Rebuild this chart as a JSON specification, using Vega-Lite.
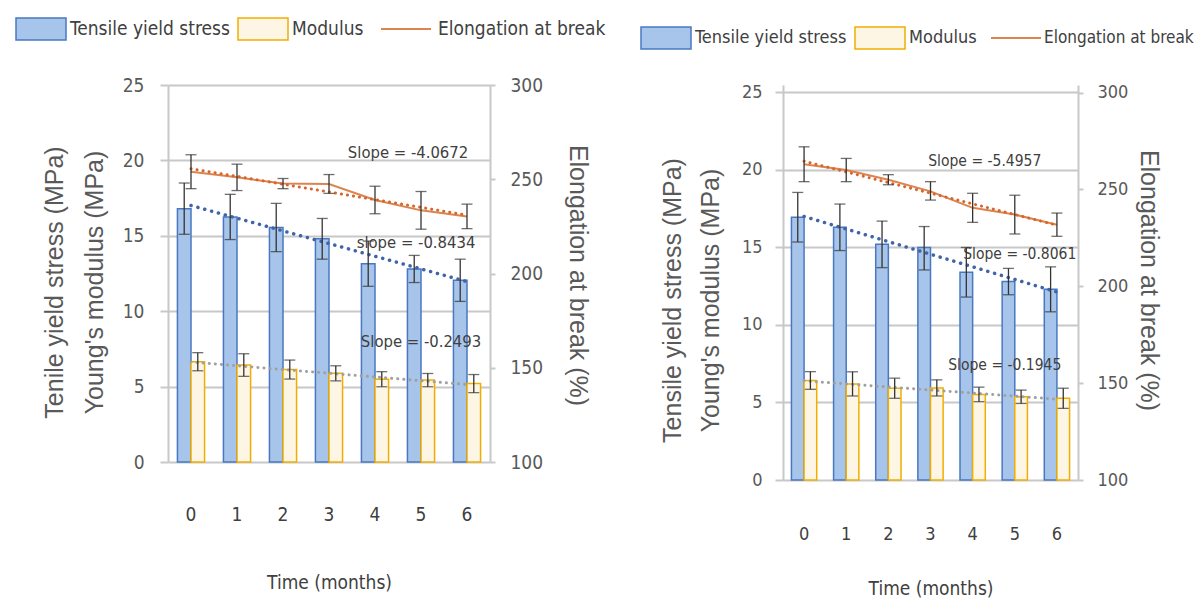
{
  "$schema": "https://vega.github.io/schema/vega-lite/v6.json",
  "background": "white",
  "padding": {"left": 15, "top": 3, "right": 0, "bottom": 0},
  "bounds": "flush",
  "spacing": 293,
  "datasets": {
    "left": [
      {"t": 0, "series": "Tensile yield stress", "value": 16.8, "lo": 15.1, "hi": 18.5},
      {"t": 1, "series": "Tensile yield stress", "value": 16.25, "lo": 14.75, "hi": 17.75},
      {"t": 2, "series": "Tensile yield stress", "value": 15.55, "lo": 13.95, "hi": 17.15},
      {"t": 3, "series": "Tensile yield stress", "value": 14.8, "lo": 13.45, "hi": 16.15},
      {"t": 4, "series": "Tensile yield stress", "value": 13.15, "lo": 11.65, "hi": 14.65},
      {"t": 5, "series": "Tensile yield stress", "value": 12.8, "lo": 11.9, "hi": 13.7},
      {"t": 6, "series": "Tensile yield stress", "value": 12.05, "lo": 10.65, "hi": 13.45},
      {"t": 0, "series": "Modulus", "value": 6.65, "lo": 6.05, "hi": 7.25},
      {"t": 1, "series": "Modulus", "value": 6.43, "lo": 5.68, "hi": 7.18},
      {"t": 2, "series": "Modulus", "value": 6.13, "lo": 5.5, "hi": 6.76},
      {"t": 3, "series": "Modulus", "value": 5.88, "lo": 5.38, "hi": 6.38},
      {"t": 4, "series": "Modulus", "value": 5.49, "lo": 4.99, "hi": 5.99},
      {"t": 5, "series": "Modulus", "value": 5.43, "lo": 4.99, "hi": 5.87},
      {"t": 6, "series": "Modulus", "value": 5.2, "lo": 4.6, "hi": 5.8},
      {"t": 0, "series": "Elongation at break", "value": 254, "lo": 245, "hi": 263},
      {"t": 1, "series": "Elongation at break", "value": 251, "lo": 244, "hi": 258},
      {"t": 2, "series": "Elongation at break", "value": 247.7, "lo": 245, "hi": 250.4},
      {"t": 3, "series": "Elongation at break", "value": 247.5, "lo": 242.5, "hi": 252.5},
      {"t": 4, "series": "Elongation at break", "value": 239, "lo": 231.7, "hi": 246.3},
      {"t": 5, "series": "Elongation at break", "value": 233.5, "lo": 223.5, "hi": 243.5},
      {"t": 6, "series": "Elongation at break", "value": 230.3, "lo": 223.8, "hi": 236.8}
    ],
    "right": [
      {"t": 0, "series": "Tensile yield stress", "value": 16.95, "lo": 15.35, "hi": 18.55},
      {"t": 1, "series": "Tensile yield stress", "value": 16.3, "lo": 14.8, "hi": 17.8},
      {"t": 2, "series": "Tensile yield stress", "value": 15.2, "lo": 13.7, "hi": 16.7},
      {"t": 3, "series": "Tensile yield stress", "value": 15.0, "lo": 13.55, "hi": 16.35},
      {"t": 4, "series": "Tensile yield stress", "value": 13.4, "lo": 11.8, "hi": 15.0},
      {"t": 5, "series": "Tensile yield stress", "value": 12.8, "lo": 11.95, "hi": 13.65},
      {"t": 6, "series": "Tensile yield stress", "value": 12.3, "lo": 10.85, "hi": 13.75},
      {"t": 0, "series": "Modulus", "value": 6.42, "lo": 5.85, "hi": 6.99},
      {"t": 1, "series": "Modulus", "value": 6.2, "lo": 5.42, "hi": 6.98},
      {"t": 2, "series": "Modulus", "value": 5.92, "lo": 5.27, "hi": 6.57},
      {"t": 3, "series": "Modulus", "value": 5.94, "lo": 5.42, "hi": 6.46},
      {"t": 4, "series": "Modulus", "value": 5.52, "lo": 5.05, "hi": 5.99},
      {"t": 5, "series": "Modulus", "value": 5.37, "lo": 4.94, "hi": 5.8},
      {"t": 6, "series": "Modulus", "value": 5.27, "lo": 4.62, "hi": 5.92},
      {"t": 0, "series": "Elongation at break", "value": 263, "lo": 254, "hi": 272},
      {"t": 1, "series": "Elongation at break", "value": 260, "lo": 254, "hi": 266},
      {"t": 2, "series": "Elongation at break", "value": 255, "lo": 252.4, "hi": 257.6},
      {"t": 3, "series": "Elongation at break", "value": 249, "lo": 244.5, "hi": 254},
      {"t": 4, "series": "Elongation at break", "value": 240.5, "lo": 233, "hi": 248},
      {"t": 5, "series": "Elongation at break", "value": 237, "lo": 227, "hi": 247},
      {"t": 6, "series": "Elongation at break", "value": 231.8, "lo": 225.8, "hi": 237.8}
    ],
    "notes": [
      {"key": "L_e", "t": 5, "y": 20.5, "label": "Slope = -4.0672"},
      {"key": "L_t", "t": 5, "y": 14.5, "label": "slope = -0.8434"},
      {"key": "L_m", "t": 5, "y": 7.97, "label": "Slope = -0.2493"},
      {"key": "R_e", "t": 5, "y": 20.6, "label": "Slope = -5.4957"},
      {"key": "R_t", "t": 5, "y": 14.6, "label": "Slope = -0.8061"},
      {"key": "R_m", "t": 5, "y": 7.4, "label": "Slope = -0.1945"}
    ]
  },
  "hconcat": [
    {
      "width": 322,
      "height": 377,
      "data": {"name": "left"},
      "encoding": {
        "x": {"field": "t", "type": "ordinal", "scale": {"paddingInner": 0.41, "paddingOuter": 0.205},
          "axis": {"title": "Time (months)", "labelAngle": 0, "ticks": false, "domain": false, "labelPadding": 43, "titleY": 120, "titleBaseline": "middle"}}
      },
      "layer": [
        {
          "layer": [
            {
              "transform": [{"filter": "datum.series !== 'Elongation at break'"}],
              "mark": {"type": "bar", "strokeWidth": 1.5},
              "encoding": {
                "xOffset": {"field": "series", "type": "nominal", "scale": {"domain": ["Tensile yield stress", "Modulus"]}},
                "y": {"field": "value", "type": "quantitative", "scale": {"domain": [0, 25], "nice": false},
                  "axis": {"orient": "left", "values": [0, 5, 10, 15, 20, 25], "title": ["Tenile yield stress (MPa)", "Young's modulus (MPa)"], "titleX": -114, "titleY": 197, "grid": true, "labelPadding": 16, "tickSize": 8}},
                "fill": {"field": "series", "type": "nominal", "scale": {"domain": ["Tensile yield stress", "Modulus"], "range": ["#A7C4EA", "#FDF6E4"]},
                  "legend": {"orient": "none", "legendX": -153, "legendY": -82, "direction": "horizontal", "title": null, "labelFontSize": 19}},
                "stroke": {"field": "series", "type": "nominal", "scale": {"domain": ["Tensile yield stress", "Modulus"], "range": ["#4A78C0", "#F2AE00"]},
                  "legend": {"orient": "none", "legendX": -153, "legendY": -82, "direction": "horizontal", "title": null, "labelFontSize": 19}}
              }
            },
            {
              "transform": [{"filter": "datum.series === 'Tensile yield stress'"}, {"regression": "value", "on": "t"}],
              "mark": {"type": "line", "strokeDash": [0.1, 7], "strokeCap": "round", "strokeWidth": 3.5, "color": "#3F64AA"},
              "encoding": {"y": {"field": "value", "type": "quantitative", "scale": {"domain": [0, 25], "nice": false}}}
            },
            {
              "transform": [{"filter": "datum.series === 'Modulus'"}, {"regression": "value", "on": "t"}],
              "mark": {"type": "line", "strokeDash": [0.1, 6], "strokeCap": "round", "strokeWidth": 3, "color": "#A0A0A0"},
              "encoding": {"y": {"field": "value", "type": "quantitative", "scale": {"domain": [0, 25], "nice": false}}}
            },
            {
              "transform": [{"filter": "datum.series !== 'Elongation at break'"}],
              "mark": {"type": "rule", "color": "#333333", "strokeWidth": 1.3},
              "encoding": {
                "xOffset": {"field": "series", "type": "nominal", "scale": {"domain": ["Tensile yield stress", "Modulus"]}},
                "y": {"field": "lo", "type": "quantitative", "scale": {"domain": [0, 25], "nice": false}},
                "y2": {"field": "hi"}
              }
            },
            {
              "transform": [{"filter": "datum.series !== 'Elongation at break'"}],
              "mark": {"type": "tick", "color": "#333333", "size": 11, "thickness": 1.3},
              "encoding": {
                "xOffset": {"field": "series", "type": "nominal", "scale": {"domain": ["Tensile yield stress", "Modulus"]}},
                "y": {"field": "lo", "type": "quantitative", "scale": {"domain": [0, 25], "nice": false}}
              }
            },
            {
              "transform": [{"filter": "datum.series !== 'Elongation at break'"}],
              "mark": {"type": "tick", "color": "#333333", "size": 11, "thickness": 1.3},
              "encoding": {
                "xOffset": {"field": "series", "type": "nominal", "scale": {"domain": ["Tensile yield stress", "Modulus"]}},
                "y": {"field": "hi", "type": "quantitative", "scale": {"domain": [0, 25], "nice": false}}
              }
            },
            {
              "data": {"name": "notes"},
              "transform": [{"filter": "datum.key === 'L_e'"}],
              "mark": {"type": "text", "dx": -13},
              "encoding": {"y": {"field": "y", "type": "quantitative", "scale": {"domain": [0, 25], "nice": false}}, "text": {"field": "label"}}
            },
            {
              "data": {"name": "notes"},
              "transform": [{"filter": "datum.key === 'L_t'"}],
              "mark": {"type": "text", "dx": -5},
              "encoding": {"y": {"field": "y", "type": "quantitative", "scale": {"domain": [0, 25], "nice": false}}, "text": {"field": "label"}}
            },
            {
              "data": {"name": "notes"},
              "transform": [{"filter": "datum.key === 'L_m'"}],
              "mark": {"type": "text", "dx": 0},
              "encoding": {"y": {"field": "y", "type": "quantitative", "scale": {"domain": [0, 25], "nice": false}}, "text": {"field": "label"}}
            }
          ]
        },
        {
          "layer": [
            {
              "transform": [{"filter": "datum.series === 'Elongation at break'"}],
              "mark": {"type": "line", "strokeWidth": 2},
              "encoding": {
                "y": {"field": "value", "type": "quantitative", "scale": {"domain": [100, 300], "nice": false, "zero": false},
                  "axis": {"orient": "right", "values": [100, 150, 200, 250, 300], "title": "Elongation at break (%)", "titleAngle": 90, "titleX": 87, "titleY": 190, "grid": false, "labelPadding": 15, "tickSize": 5}},
                "color": {"datum": "Elongation at break", "type": "nominal", "scale": {"domain": ["Elongation at break"], "range": ["#DC8450"]},
                  "legend": {"orient": "none", "legendX": 212, "legendY": -82, "title": null, "symbolType": "stroke", "symbolStrokeWidth": 2, "labelOffset": 6, "labelFontSize": 19}}
              }
            },
            {
              "transform": [{"filter": "datum.series === 'Elongation at break'"}, {"regression": "value", "on": "t"}],
              "mark": {"type": "line", "strokeDash": [0.1, 6], "strokeCap": "round", "strokeWidth": 3, "color": "#D8662A"},
              "encoding": {"y": {"field": "value", "type": "quantitative", "scale": {"domain": [100, 300], "nice": false, "zero": false}}}
            },
            {
              "transform": [{"filter": "datum.series === 'Elongation at break'"}],
              "mark": {"type": "rule", "color": "#333333", "strokeWidth": 1.3},
              "encoding": {
                "y": {"field": "lo", "type": "quantitative", "scale": {"domain": [100, 300], "nice": false, "zero": false}},
                "y2": {"field": "hi"}
              }
            },
            {
              "transform": [{"filter": "datum.series === 'Elongation at break'"}],
              "mark": {"type": "tick", "color": "#333333", "size": 11, "thickness": 1.3},
              "encoding": {"y": {"field": "lo", "type": "quantitative", "scale": {"domain": [100, 300], "nice": false, "zero": false}}}
            },
            {
              "transform": [{"filter": "datum.series === 'Elongation at break'"}],
              "mark": {"type": "tick", "color": "#333333", "size": 11, "thickness": 1.3},
              "encoding": {"y": {"field": "hi", "type": "quantitative", "scale": {"domain": [100, 300], "nice": false, "zero": false}}}
            }
          ]
        }
      ],
      "resolve": {"scale": {"y": "independent"}}
    },
    {
      "width": 295,
      "height": 395,
      "data": {"name": "right"},
      "encoding": {
        "x": {"field": "t", "type": "ordinal", "scale": {"paddingInner": 0.4, "paddingOuter": 0.2},
          "axis": {"title": "Time (months)", "labelAngle": 0, "ticks": false, "domain": false, "labelPadding": 45, "titleY": 108, "titleBaseline": "middle", "labelFontSize": 18}}
      },
      "layer": [
        {
          "layer": [
            {
              "transform": [{"filter": "datum.series !== 'Elongation at break'"}],
              "mark": {"type": "bar", "strokeWidth": 1.5},
              "encoding": {
                "xOffset": {"field": "series", "type": "nominal", "scale": {"domain": ["Tensile yield stress", "Modulus"]}},
                "y": {"field": "value", "type": "quantitative", "scale": {"domain": [0, 25.48], "nice": false},
                  "axis": {"orient": "left", "values": [0, 5, 10, 15, 20, 25], "title": ["Tensile yield stress (MPa)", "Young's modulus (MPa)"], "titleX": -111, "titleY": 215, "titleLineHeight": 38, "grid": true, "labelPadding": 13, "tickSize": 8, "labelFontSize": 18}},
                "fill": {"field": "series", "type": "nominal", "scale": {"domain": ["Tensile yield stress", "Modulus"], "range": ["#A7C4EA", "#FDF6E4"]},
                  "legend": {"orient": "none", "legendX": -143, "legendY": -73, "direction": "horizontal", "title": null, "labelFontSize": 18}},
                "stroke": {"field": "series", "type": "nominal", "scale": {"domain": ["Tensile yield stress", "Modulus"], "range": ["#4A78C0", "#F2AE00"]},
                  "legend": {"orient": "none", "legendX": -143, "legendY": -73, "direction": "horizontal", "title": null, "labelFontSize": 18}}
              }
            },
            {
              "transform": [{"filter": "datum.series === 'Tensile yield stress'"}, {"regression": "value", "on": "t"}],
              "mark": {"type": "line", "strokeDash": [0.1, 7], "strokeCap": "round", "strokeWidth": 3.5, "color": "#3F64AA"},
              "encoding": {"y": {"field": "value", "type": "quantitative", "scale": {"domain": [0, 25.48], "nice": false}}}
            },
            {
              "transform": [{"filter": "datum.series === 'Modulus'"}, {"regression": "value", "on": "t"}],
              "mark": {"type": "line", "strokeDash": [0.1, 6], "strokeCap": "round", "strokeWidth": 3, "color": "#A0A0A0"},
              "encoding": {"y": {"field": "value", "type": "quantitative", "scale": {"domain": [0, 25.48], "nice": false}}}
            },
            {
              "transform": [{"filter": "datum.series !== 'Elongation at break'"}],
              "mark": {"type": "rule", "color": "#333333", "strokeWidth": 1.3},
              "encoding": {
                "xOffset": {"field": "series", "type": "nominal", "scale": {"domain": ["Tensile yield stress", "Modulus"]}},
                "y": {"field": "lo", "type": "quantitative", "scale": {"domain": [0, 25.48], "nice": false}},
                "y2": {"field": "hi"}
              }
            },
            {
              "transform": [{"filter": "datum.series !== 'Elongation at break'"}],
              "mark": {"type": "tick", "color": "#333333", "size": 11, "thickness": 1.3},
              "encoding": {
                "xOffset": {"field": "series", "type": "nominal", "scale": {"domain": ["Tensile yield stress", "Modulus"]}},
                "y": {"field": "lo", "type": "quantitative", "scale": {"domain": [0, 25.48], "nice": false}}
              }
            },
            {
              "transform": [{"filter": "datum.series !== 'Elongation at break'"}],
              "mark": {"type": "tick", "color": "#333333", "size": 11, "thickness": 1.3},
              "encoding": {
                "xOffset": {"field": "series", "type": "nominal", "scale": {"domain": ["Tensile yield stress", "Modulus"]}},
                "y": {"field": "hi", "type": "quantitative", "scale": {"domain": [0, 25.48], "nice": false}}
              }
            },
            {
              "data": {"name": "notes"},
              "transform": [{"filter": "datum.key === 'R_e'"}],
              "mark": {"type": "text", "dx": -30, "fontSize": 15.5},
              "encoding": {"y": {"field": "y", "type": "quantitative", "scale": {"domain": [0, 25.48], "nice": false}}, "text": {"field": "label"}}
            },
            {
              "data": {"name": "notes"},
              "transform": [{"filter": "datum.key === 'R_t'"}],
              "mark": {"type": "text", "dx": 5, "fontSize": 15.5},
              "encoding": {"y": {"field": "y", "type": "quantitative", "scale": {"domain": [0, 25.48], "nice": false}}, "text": {"field": "label"}}
            },
            {
              "data": {"name": "notes"},
              "transform": [{"filter": "datum.key === 'R_m'"}],
              "mark": {"type": "text", "dx": -10, "fontSize": 15.5},
              "encoding": {"y": {"field": "y", "type": "quantitative", "scale": {"domain": [0, 25.48], "nice": false}}, "text": {"field": "label"}}
            }
          ]
        },
        {
          "layer": [
            {
              "transform": [{"filter": "datum.series === 'Elongation at break'"}],
              "mark": {"type": "line", "strokeWidth": 2},
              "encoding": {
                "y": {"field": "value", "type": "quantitative", "scale": {"domain": [100, 303.9], "nice": false, "zero": false},
                  "axis": {"orient": "right", "values": [100, 150, 200, 250, 300], "title": "Elongation at break (%)", "titleAngle": 90, "titleX": 70, "titleY": 195, "grid": false, "labelPadding": 14, "tickSize": 5, "labelFontSize": 18}},
                "color": {"datum": "Elongation at break", "type": "nominal", "scale": {"domain": ["Elongation at break"], "range": ["#DC8450"]},
                  "legend": {"orient": "none", "legendX": 207, "legendY": -73, "title": null, "symbolType": "stroke", "symbolStrokeWidth": 2, "labelOffset": 2, "labelFontSize": 17}}
              }
            },
            {
              "transform": [{"filter": "datum.series === 'Elongation at break'"}, {"regression": "value", "on": "t"}],
              "mark": {"type": "line", "strokeDash": [0.1, 6], "strokeCap": "round", "strokeWidth": 3, "color": "#D8662A"},
              "encoding": {"y": {"field": "value", "type": "quantitative", "scale": {"domain": [100, 303.9], "nice": false, "zero": false}}}
            },
            {
              "transform": [{"filter": "datum.series === 'Elongation at break'"}],
              "mark": {"type": "rule", "color": "#333333", "strokeWidth": 1.3},
              "encoding": {
                "y": {"field": "lo", "type": "quantitative", "scale": {"domain": [100, 303.9], "nice": false, "zero": false}},
                "y2": {"field": "hi"}
              }
            },
            {
              "transform": [{"filter": "datum.series === 'Elongation at break'"}],
              "mark": {"type": "tick", "color": "#333333", "size": 11, "thickness": 1.3},
              "encoding": {"y": {"field": "lo", "type": "quantitative", "scale": {"domain": [100, 303.9], "nice": false, "zero": false}}}
            },
            {
              "transform": [{"filter": "datum.series === 'Elongation at break'"}],
              "mark": {"type": "tick", "color": "#333333", "size": 11, "thickness": 1.3},
              "encoding": {"y": {"field": "hi", "type": "quantitative", "scale": {"domain": [100, 303.9], "nice": false, "zero": false}}}
            }
          ]
        }
      ],
      "resolve": {"scale": {"y": "independent"}}
    }
  ],
  "resolve": {
    "scale": {"fill": "independent", "stroke": "independent", "color": "independent", "xOffset": "independent"},
    "legend": {"fill": "independent", "stroke": "independent", "color": "independent"}
  },
  "config": {
    "view": {"stroke": null},
    "font": "DejaVu Sans Condensed, sans-serif",
    "axis": {
      "labelFont": "DejaVu Sans Condensed, sans-serif",
      "labelFontSize": 19,
      "labelColor": "#595959",
      "titleFont": "Liberation Sans, Arial, sans-serif",
      "titleFontSize": 25,
      "titleFontWeight": "normal",
      "titleColor": "#595959",
      "titleAlign": "center",
      "titleBaseline": "middle",
      "titleLineHeight": 40,
      "domainColor": "#C8C8C8",
      "domainWidth": 2,
      "tickColor": "#C8C8C8",
      "tickWidth": 2,
      "gridColor": "#C8C8C8",
      "gridWidth": 2
    },
    "axisX": {"titleFont": "DejaVu Sans Condensed, sans-serif", "titleFontSize": 19, "titleColor": "#404040", "labelColor": "#404040"},
    "legend": {
      "labelFont": "DejaVu Sans Condensed, sans-serif",
      "labelFontSize": 19,
      "labelColor": "#404040",
      "symbolType": "M-1,-0.44H1V0.44H-1Z",
      "symbolSize": 2500,
      "symbolStrokeWidth": 1.5,
      "symbolOpacity": 1,
      "labelOffset": 3,
      "columnPadding": 5,
      "padding": 0,
      "labelLimit": 400
    },
    "text": {"font": "DejaVu Sans Condensed, sans-serif", "fontSize": 16.5, "color": "#404040"}
  }
}
